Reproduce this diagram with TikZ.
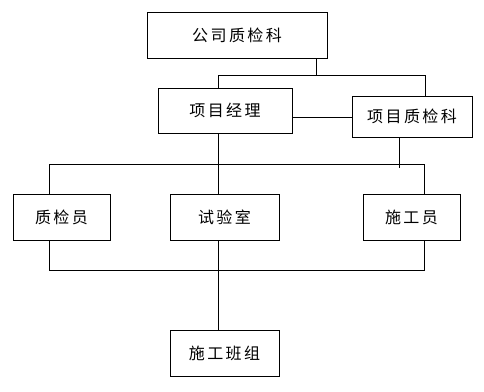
\documentclass[tikz,border=0pt]{standalone}
\usepackage{fontspec}
\newfontfamily\cjk[LetterSpace=15]{Noto Sans CJK SC}
\usepackage{tikz}
\tikzset{
  unit/.style  ={draw, rectangle, inner sep=0pt, line width=0.8pt,
                 font=\cjk\fontsize{16}{18}\selectfont},
  wire/.style  ={line width=0.8pt},
}

\begin{document}
\begin{tikzpicture}[x=1pt, y=-1pt]
  \useasboundingbox (0,0) rectangle (484,391);
  % upper level
  \node[unit, minimum width=180pt, minimum height=46pt] (corp) at (237,35)    {公司质检科};
  \node[unit, minimum width=134pt, minimum height=45pt] (pm)   at (225,110.5) {项目经理};
  \node[unit, minimum width=120pt, minimum height=41pt] (pq)   at (412,116.5) {项目质检科};
  % site level
  \node[unit, minimum width=97pt,  minimum height=46pt] (qc)   at (61.5,217)  {质检员};
  \node[unit, minimum width=109pt, minimum height=46pt] (lab)  at (224.5,217) {试验室};
  \node[unit, minimum width=97pt,  minimum height=46pt] (cw)   at (411.5,217) {施工员};
  \node[unit, minimum width=109pt, minimum height=46pt] (team) at (224.5,353) {施工班组};
  % junctions
  \coordinate (top)  at (316,75);
  \coordinate (tl)   at (218,75);
  \coordinate (tr)   at (425,75);
  \coordinate (lk)   at (320,117);
  \coordinate (mid)  at (218,164);
  \coordinate (pqd)  at (399,168);
  \coordinate (ml)   at (49,164);
  \coordinate (mr)   at (424,164);
  \coordinate (bl)   at (49,270);
  \coordinate (br)   at (424,270);
  % wires
  \draw[wire] (corp.south -| top) -- (top);
  \draw[wire] (pm.north -| tl) -- (tl) -- (tr) -- (pq.north -| tr);
  \draw[wire] (pm.east |- lk) -- (pq.west |- lk);
  \draw[wire] (pm.south -| mid) -- (lab.north -| mid);
  \draw[wire] (pq.south -| pqd) -- (pqd);
  \draw[wire] (qc.north -| ml) -- (ml) -- (mr) -- (cw.north -| mr);
  \draw[wire] (qc.south -| bl) -- (bl) -- (br) -- (cw.south -| br);
  \draw[wire] (lab.south -| mid) -- (team.north -| mid);
\end{tikzpicture}
\end{document}
